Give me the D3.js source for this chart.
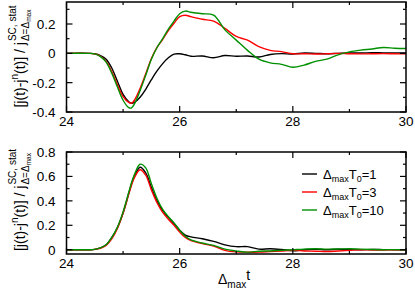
<!DOCTYPE html>
<html><head><meta charset="utf-8">
<script src="https://cdn.jsdelivr.net/npm/d3@7"></script>
<style>body{margin:0;background:#fff}svg{display:block}text{font-family:"Liberation Sans",Arial,sans-serif;fill:#000}</style>
</head><body><svg id="c" width="415" height="291"></svg>
<script>
const times = [24,24.4,24.5,24.6,24.7,24.8,24.9,25.0,25.1,25.15,25.2,25.3,25.4,25.5,25.6,25.7,25.8,25.9,26.0,26.1,26.2,26.4,26.6,26.8,27.0,27.2,27.4,27.6,27.8,28.0,28.2,28.4,28.6,28.8,29.0,29.2,29.4,29.6,29.8,30.0];
const seriesNames = ["1","3","10"];
const seriesColors = ["#000000","#ff0000","#009000"];
// top panel: [j(t)-j^n(t)] (difference), per T0
const topT1  = [0,0,-0.003,-0.015,-0.04,-0.10,-0.19,-0.28,-0.33,-0.34,-0.335,-0.30,-0.245,-0.18,-0.12,-0.07,-0.03,-0.005,-0.003,-0.01,-0.02,-0.018,-0.03,-0.015,-0.02,-0.018,-0.025,-0.008,-0.002,-0.005,0.002,0.0,-0.003,0.0,0.003,0.002,0.004,0.003,0.003,0.002];
const topT3  = [0,0,-0.004,-0.02,-0.055,-0.125,-0.215,-0.295,-0.335,-0.34,-0.32,-0.24,-0.14,-0.035,0.04,0.095,0.155,0.205,0.25,0.26,0.25,0.232,0.22,0.17,0.115,0.09,0.045,0.02,0.012,-0.003,-0.003,-0.005,-0.003,0,-0.003,-0.004,-0.003,-0.002,-0.003,-0.004];
const topT10 = [0,0,-0.004,-0.022,-0.06,-0.135,-0.23,-0.32,-0.37,-0.372,-0.345,-0.255,-0.15,-0.04,0.04,0.1,0.165,0.22,0.27,0.288,0.28,0.27,0.26,0.16,0.09,0.02,-0.04,-0.065,-0.075,-0.095,-0.08,-0.055,-0.04,-0.01,0.01,0.022,0.03,0.04,0.035,0.033];
// bottom panel
const botT1  = [0,0,0.003,0.015,0.04,0.1,0.18,0.3,0.46,0.54,0.6,0.675,0.63,0.51,0.4,0.32,0.265,0.215,0.16,0.12,0.105,0.09,0.068,0.04,0.025,0.025,0.005,0.008,0.002,-0.008,0,0.003,0,0.004,0.002,0,0.002,0.001,0,0];
const botT3  = [0,0,0.003,0.012,0.035,0.09,0.175,0.3,0.455,0.53,0.59,0.655,0.61,0.49,0.385,0.305,0.25,0.2,0.145,0.1,0.075,0.05,0.03,-0.005,-0.018,-0.02,-0.02,-0.015,-0.01,-0.005,-0.01,-0.012,-0.015,-0.01,-0.005,0,-0.002,-0.003,0,0];
const botT10 = [0,0,0.003,0.015,0.04,0.1,0.185,0.31,0.47,0.55,0.615,0.7,0.67,0.54,0.42,0.33,0.27,0.22,0.16,0.11,0.08,0.055,0.035,0.005,-0.01,-0.02,-0.012,-0.01,-0.005,0,0.005,0.008,0.005,0.006,0.008,0.005,0.002,0,0.001,0];
const xTicks = [24,26,28,30];
const xMinor = [25,27,29];
const topYTicks = [-0.4,-0.2,0,0.2];
const topYMinor = [-0.3,-0.1,0.1,0.3];
const botYTicks = [0,0.2,0.4,0.6,0.8];
const botYMinor = [0.1,0.3,0.5,0.7];

const svg = d3.select("#c");
const L = 66.5, R = 406;
const x = d3.scaleLinear().domain([24,30]).range([L,R]);

function panel(yDomain, yRange, data, yTicks, yMinor, fmt, labelCY) {
  const y = d3.scaleLinear().domain(yDomain).range(yRange);
  const g = svg.append("g");
  const line = d3.line().x((d,i)=>x(times[i])).y(d=>y(d)).curve(d3.curveCatmullRom.alpha(0.5));
  data.forEach((s,k)=>{
    g.append("path").attr("d", line(s)).attr("fill","none").attr("stroke",seriesColors[k]).attr("stroke-width",1.4);
  });
  const T = yRange[1], B = yRange[0];
  const tk = (sel)=>sel.attr("stroke","#000").attr("stroke-width",1.2);
  xTicks.forEach(v=>{tk(g.append("line").attr("x1",x(v)).attr("x2",x(v)).attr("y1",B).attr("y2",B-6));tk(g.append("line").attr("x1",x(v)).attr("x2",x(v)).attr("y1",T).attr("y2",T+6));});
  xMinor.forEach(v=>{tk(g.append("line").attr("x1",x(v)).attr("x2",x(v)).attr("y1",B).attr("y2",B-3));tk(g.append("line").attr("x1",x(v)).attr("x2",x(v)).attr("y1",T).attr("y2",T+3));});
  yTicks.forEach(v=>{tk(g.append("line").attr("x1",L).attr("x2",L+6).attr("y1",y(v)).attr("y2",y(v)));tk(g.append("line").attr("x1",R).attr("x2",R-6).attr("y1",y(v)).attr("y2",y(v)));});
  yMinor.forEach(v=>{tk(g.append("line").attr("x1",L).attr("x2",L+3).attr("y1",y(v)).attr("y2",y(v)));tk(g.append("line").attr("x1",R).attr("x2",R-3).attr("y1",y(v)).attr("y2",y(v)));});
  g.append("rect").attr("x",L).attr("y",T).attr("width",R-L).attr("height",B-T).attr("fill","none").attr("stroke","#000").attr("stroke-width",1.5);
  yTicks.forEach(v=>g.append("text").attr("x",L-11).attr("y",y(v)).attr("dy","0.36em").attr("text-anchor","end").attr("font-size",13.5).text(fmt(v)));
  xTicks.forEach(v=>g.append("text").attr("x",x(v)).attr("y",B+14).attr("text-anchor","middle").attr("font-size",13.5).text(v));
  const lg = svg.append("g").attr("transform",`translate(25,${labelCY}) rotate(-90)`);
  const inner = lg.append("g");
  const t1 = inner.append("text").attr("x",0).attr("y",0).attr("font-size",14);
  t1.append("tspan").text("[j(t)-j");
  t1.append("tspan").attr("font-size",10).attr("dy",-7).text("n");
  t1.append("tspan").attr("dy",7).text("(t)] / j");
  const w = t1.node().getComputedTextLength();
  const sup = inner.append("text").attr("x",w+1).attr("y",-9).attr("font-size",10).text("SC, stat");
  const sub = inner.append("text").attr("x",w+1).attr("y",4).attr("font-size",10);
  sub.append("tspan").text("Δ=Δ");
  sub.append("tspan").attr("font-size",6.5).attr("dy",2).text("max");
  const total = w + 1 + Math.max(sup.node().getComputedTextLength(), sub.node().getComputedTextLength());
  inner.attr("transform",`translate(${-total/2},0)`);
}
const fmt = v => v===0 ? "0" : String(v);
panel([-0.4,0.35],[112,2],[topT1,topT3,topT10],topYTicks,topYMinor,fmt,56.5);
panel([-0.035,0.8],[254,152],[botT1,botT3,botT10],botYTicks,botYMinor,fmt,200);

const xt = svg.append("text").attr("x",218).attr("y",284).attr("font-size",14);
xt.append("tspan").text("Δ");
xt.append("tspan").attr("font-size",10).attr("dy",4).text("max");
xt.append("tspan").attr("dy",-8).text("t");

const legY = [174,192,210];
seriesNames.forEach((n,k)=>{
  svg.append("line").attr("x1",302).attr("x2",317).attr("y1",legY[k]).attr("y2",legY[k]).attr("stroke",seriesColors[k]).attr("stroke-width",1.4);
  const t = svg.append("text").attr("x",323).attr("y",legY[k]+5).attr("font-size",13);
  t.append("tspan").text("Δ");
  t.append("tspan").attr("font-size",9).attr("dy",3).text("max");
  t.append("tspan").attr("dy",-3).text("T");
  t.append("tspan").attr("font-size",9).attr("dy",3).text("0");
  t.append("tspan").attr("dy",-3).text("="+n);
});
</script></body></html>
